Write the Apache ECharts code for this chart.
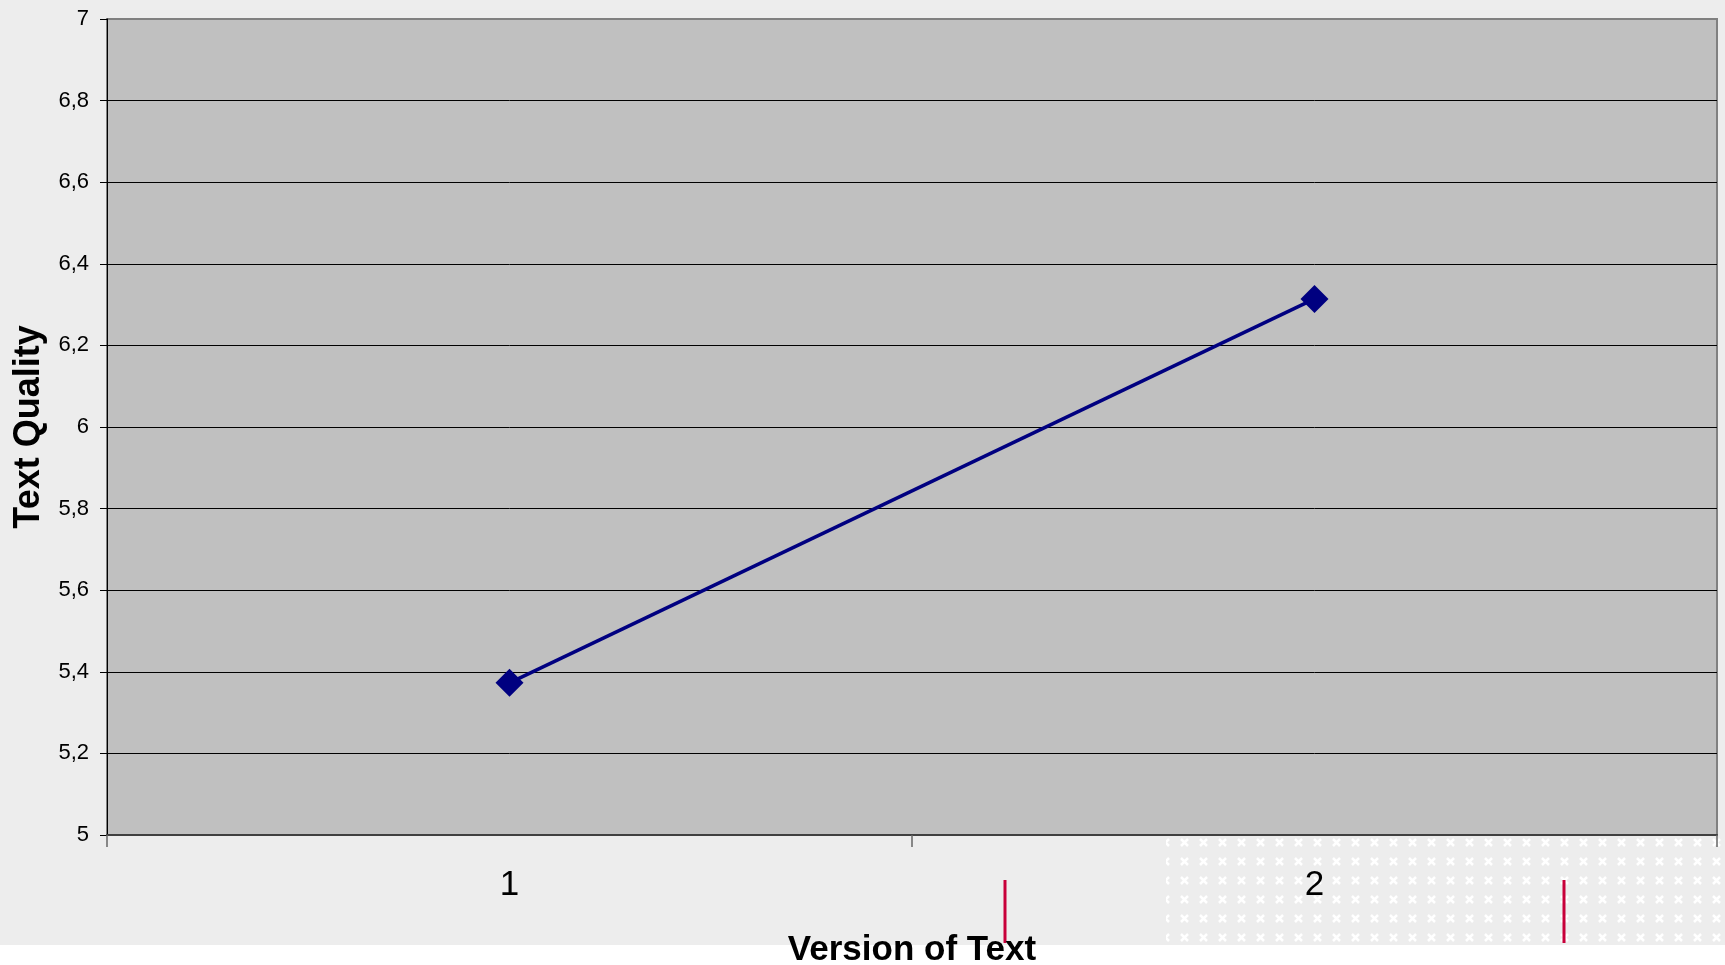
<!DOCTYPE html>
<html>
<head>
<meta charset="utf-8">
<script src="https://cdn.jsdelivr.net/npm/echarts@6/dist/echarts.min.js"></script>
<style>
  html, body { margin: 0; padding: 0; background: #ffffff; }
  #chart { width: 1725px; height: 965px; }
</style>
</head>
<body>
<div id="chart"></div>
<script>
const categories = ['1', '2'];
const textQuality = [5.373, 6.314];
const yMin = 5, yMax = 7, yStep = 0.2;
const xTitle = 'Version of Text';
const yTitle = 'Text Quality';

// dotted decoration pattern
const pat = document.createElement('canvas');
pat.width = 19; pat.height = 19;
const pc = pat.getContext('2d');
pc.fillStyle = '#ededed';
pc.fillRect(0, 0, 19, 19);
pc.strokeStyle = '#ffffff';
pc.lineWidth = 2.5;
pc.beginPath();
pc.moveTo(3, 3); pc.lineTo(10, 10);
pc.moveTo(10, 3); pc.lineTo(3, 10);
pc.stroke();

const splitColors = [];
for (let i = 0; i < 10; i++) splitColors.push('#000000');
splitColors.push('#808080');

const chart = echarts.init(document.getElementById('chart'));
chart.setOption({
  backgroundColor: '#ededed',
  animation: false,
  textStyle: { fontFamily: 'Liberation Sans, Arial, sans-serif' },
  graphic: [
    { type: 'rect', z: -20, silent: true, shape: { x: 0, y: 945, width: 1725, height: 20 }, style: { fill: '#ffffff' } },
    { type: 'rect', z: -15, silent: true, shape: { x: 1166, y: 836, width: 559, height: 109 }, style: { fill: { image: pat, repeat: 'repeat' } } },
    { type: 'line', z: -10, silent: true, shape: { x1: 1005, y1: 880, x2: 1005, y2: 943 }, style: { stroke: '#c8003a', lineWidth: 3 } },
    { type: 'line', z: -10, silent: true, shape: { x1: 1564, y1: 880, x2: 1564, y2: 943 }, style: { stroke: '#c8003a', lineWidth: 3 } }
  ],
  grid: {
    left: 107, right: 8, top: 19, bottom: 130,
    outerBoundsMode: 'none',
    containLabel: false,
    show: true, backgroundColor: '#c0c0c0', borderColor: '#808080', borderWidth: 2
  },
  xAxis: {
    type: 'category',
    data: categories,
    boundaryGap: true,
    name: xTitle,
    nameLocation: 'middle',
    nameGap: 98,
    nameMoveOverlap: false,
    nameTextStyle: { fontSize: 35, fontWeight: 'bold', color: '#000' },
    axisLine: { lineStyle: { color: '#404040', width: 2 } },
    axisTick: { show: true, length: 12, lineStyle: { color: '#666', width: 1.5 } },
    axisLabel: { fontSize: 35, color: '#000', margin: 33 },
    splitLine: { show: false }
  },
  yAxis: {
    type: 'value',
    min: yMin, max: yMax, interval: yStep,
    name: yTitle,
    nameLocation: 'middle',
    nameGap: 60,
    nameMoveOverlap: false,
    nameRotate: 90,
    nameTextStyle: { fontSize: 36, fontWeight: 'bold', color: '#000' },
    axisLine: { show: true, lineStyle: { color: '#000', width: 1 } },
    axisTick: { show: true, length: 7, lineStyle: { color: '#000', width: 1 } },
    axisLabel: {
      fontSize: 22, color: '#000', margin: 18,
      formatter: v => String(+v.toFixed(1)).replace('.', ',')
    },
    splitLine: { show: true, lineStyle: { color: splitColors, width: 1 } }
  },
  series: [{
    type: 'line',
    data: textQuality,
    symbol: 'diamond',
    symbolSize: 28,
    lineStyle: { color: '#000080', width: 3.5 },
    itemStyle: { color: '#000080' }
  }]
});
</script>
</body>
</html>
